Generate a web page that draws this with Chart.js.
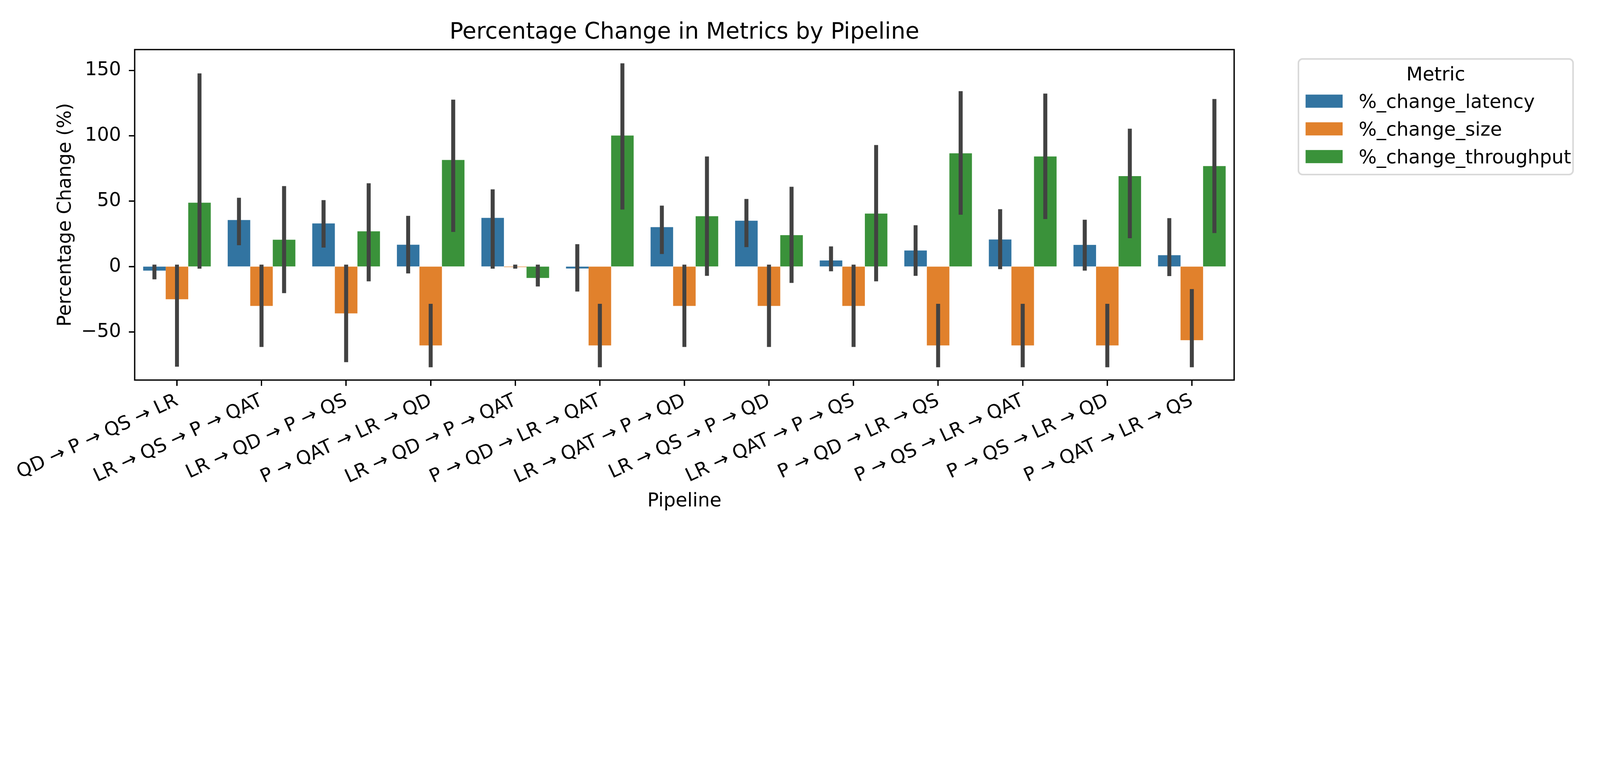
<!DOCTYPE html>
<html>
<head>
<meta charset="utf-8">
<title>Percentage Change in Metrics by Pipeline</title>
<script src="https://cdn.jsdelivr.net/npm/chart.js@4.4.1/dist/chart.umd.min.js"></script>
<style>
  html, body { margin: 0; padding: 0; background: #fff; overflow: hidden; }
  /* drawn at 6000x2000, shown at whatever fits the window */
  #chart {
    display: block;
    width: min(100vw, 300vh) !important;
    height: min(33.3333vw, 100vh) !important;
  }
</style>
</head>
<body>
<canvas id="chart" width="6000" height="2000"></canvas>
<script>
// Grouped bars (mean % change per pipeline) with 95% CI error bars, seaborn style.

const PIPELINES = [
  "QD → P → QS → LR", "LR → QS → P → QAT", "LR → QD → P → QS", "P → QAT → LR → QD",
  "LR → QD → P → QAT", "P → QD → LR → QAT", "LR → QAT → P → QD", "LR → QS → P → QD",
  "LR → QAT → P → QS", "P → QD → LR → QS", "P → QS → LR → QAT", "P → QS → LR → QD",
  "P → QAT → LR → QS",
];
const METRICS = ["%_change_latency", "%_change_size", "%_change_throughput"];
const COLORS = ["#3274a1", "#e1812c", "#3a923a"];

const LATENCY = [-3.1, 35.6, 33.0, 16.7, 37.2, -1.5, 30.1, 35.0, 4.7, 12.3, 20.7, 16.5, 8.7];
const LATENCY_LO = [-9.8, 16.3, 14.5, -5.3, -1.6, -19.1, 9.6, 14.9, -3.6, -7.1, -2.0, -3.1, -7.3];
const LATENCY_HI = [1.5, 52.6, 50.8, 38.8, 59.0, 17.1, 46.6, 51.7, 15.4, 31.6, 43.9, 35.8, 37.0];

const SIZE = [-25.0, -30.1, -35.8, -60.3, -0.4, -60.3, -30.1, -30.1, -30.1, -60.3, -60.3, -60.3, -56.3];
const SIZE_LO = [-76.6, -61.5, -73.1, -77.0, -1.6, -77.0, -61.5, -61.5, -61.5, -77.0, -77.0, -77.0, -77.0];
const SIZE_HI = [1.5, 1.5, 1.5, -28.5, 1.5, -28.5, 1.5, 1.5, 1.5, -28.5, -28.5, -28.5, -17.2];

const THROUGHPUT = [48.8, 20.5, 26.9, 81.5, -8.7, 100.2, 38.5, 24.0, 40.5, 86.6, 84.2, 69.1, 76.8];
const THROUGHPUT_LO = [-1.6, -20.3, -11.3, 26.5, -15.2, 43.6, -7.1, -12.5, -11.3, 39.6, 36.3, 21.6, 25.6];
const THROUGHPUT_HI = [147.7, 61.5, 63.7, 127.6, 1.5, 155.4, 84.2, 61.0, 92.9, 134.1, 132.3, 105.4, 128.1];

const Y_TICKS = [-50, 0, 50, 100, 150];
const Y_MIN = -86.8;
const Y_MAX = 165.9;

const FONT = "'DejaVu Sans', 'Liberation Sans', sans-serif";
const ERR_LO = [LATENCY_LO, SIZE_LO, THROUGHPUT_LO];
const ERR_HI = [LATENCY_HI, SIZE_HI, THROUGHPUT_HI];

// error bars, axes frame, title and legend are drawn on top of Chart.js' own output
const decorations = {
  id: "decorations",
  afterDatasetsDraw(chart) {
    const { ctx, chartArea: a, scales: { y } } = chart;
    ctx.save();
    ctx.strokeStyle = "#424242";
    ctx.lineWidth = 15;
    ctx.lineCap = "butt";
    chart.data.datasets.forEach((ds, i) => {
      chart.getDatasetMeta(i).data.forEach((bar, j) => {
        ctx.beginPath();
        ctx.moveTo(bar.x, y.getPixelForValue(ERR_LO[i][j]));
        ctx.lineTo(bar.x, y.getPixelForValue(ERR_HI[i][j]));
        ctx.stroke();
      });
    });

    ctx.strokeStyle = "#000";
    ctx.lineWidth = 5;
    ctx.strokeRect(a.left, a.top, a.right - a.left, a.bottom - a.top);
    ctx.restore();
  },
  afterDraw(chart) {
    const { ctx, chartArea: a } = chart;
    ctx.save();
    ctx.fillStyle = "#000";
    ctx.textBaseline = "alphabetic";
    ctx.textAlign = "center";
    ctx.font = `85px ${FONT}`;
    ctx.fillText("Percentage Change in Metrics by Pipeline", (a.left + a.right) / 2, 145);

    // legend box
    const bx = 4869, by = 221, bw = 1030, bh = 434;
    ctx.strokeStyle = "#d9d9d9";
    ctx.lineWidth = 6;
    ctx.beginPath();
    ctx.roundRect(bx, by, bw, bh, 16);
    ctx.fillStyle = "#fff";
    ctx.fill();
    ctx.stroke();

    ctx.fillStyle = "#000";
    ctx.font = `71px ${FONT}`;
    ctx.fillText("Metric", bx + bw / 2, 302);
    ctx.textAlign = "left";
    chart.data.datasets.forEach((ds, i) => {
      const top = 355 + i * 104;
      ctx.fillStyle = ds.backgroundColor;
      ctx.fillRect(4896, top, 139, 49);
      ctx.fillStyle = "#000";
      ctx.fillText(ds.label, 5095, top + 50);
    });
    ctx.restore();
  },
};

new Chart(document.getElementById("chart"), {
  type: "bar",
  data: {
    labels: PIPELINES,
    datasets: [LATENCY, SIZE, THROUGHPUT].map((vals, i) => ({
      label: METRICS[i],
      data: vals,
      backgroundColor: COLORS[i],
      borderWidth: 0,
      categoryPercentage: 0.8,
      barPercentage: 1.0,
    })),
  },
  options: {
    responsive: false,
    devicePixelRatio: 1,
    animation: false,
    layout: { padding: { left: 0, right: 1372, top: 186, bottom: 0 } },
    scales: {
      x: {
        offset: true,
        border: { display: false },
        grid: {
          display: true, offset: false, drawOnChartArea: false, drawTicks: true,
          tickLength: 22, tickWidth: 5, tickColor: "#000",
        },
        ticks: {
          autoSkip: false, minRotation: 25, maxRotation: 25, padding: 14,
          color: "#000", font: { family: FONT, size: 71 },
        },
        title: {
          display: true, text: "Pipeline", color: "#000",
          font: { family: FONT, size: 71 }, padding: { top: 0, bottom: 76 },
        },
        afterFit(scale) {
          scale.height = 574;
          scale.paddingLeft = 0;
          scale.paddingRight = 0;
        },
      },
      y: {
        min: Y_MIN,
        max: Y_MAX,
        border: { display: false },
        grid: {
          display: true, drawOnChartArea: false, drawTicks: true,
          tickLength: 22, tickWidth: 5, tickColor: "#000",
        },
        ticks: {
          padding: 29, color: "#000", font: { family: FONT, size: 71 },
          callback: (v) => String(v).replace("-", "\u2212"),
        },
        afterBuildTicks(scale) {
          scale.ticks = Y_TICKS.map((v) => ({ value: v }));
        },
        title: {
          display: true, text: "Percentage Change (%)", color: "#000",
          font: { family: FONT, size: 71 }, padding: { top: 204, bottom: 0 },
        },
        afterFit(scale) {
          scale.width = 505;
          scale.paddingTop = 0;
          scale.paddingBottom = 0;
        },
      },
    },
    plugins: {
      legend: { display: false },
      tooltip: { enabled: false },
      title: { display: false },
    },
  },
  plugins: [decorations],
});
</script>
</body>
</html>
